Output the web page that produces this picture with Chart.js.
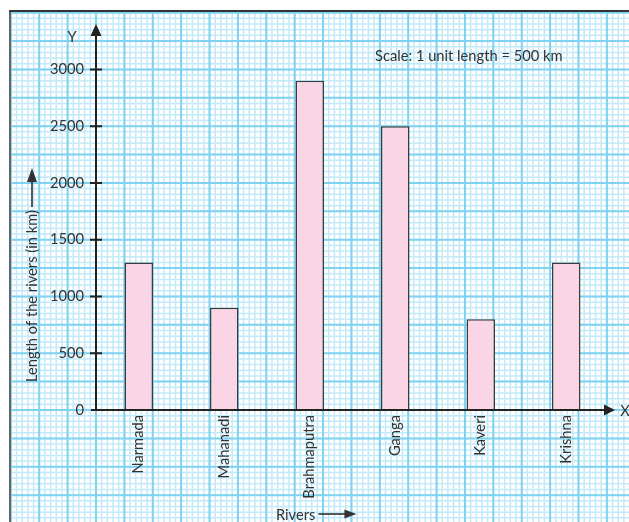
<!DOCTYPE html>
<html>
<head>
<meta charset="utf-8">
<script src="https://cdn.jsdelivr.net/npm/chart.js@4"></script>
<style>
  html, body { margin: 0; padding: 0; background: #fff; }
  #wrap { width: 629px; height: 522px; }
</style>
</head>
<body>
<div id="wrap"><canvas id="chart"></canvas></div>
<script>
const rivers = ['Narmada', 'Mahanadi', 'Brahmaputra', 'Ganga', 'Kaveri', 'Krishna'];
const lengths = [1300, 900, 2900, 2500, 800, 1300];
const yTicks = [0, 500, 1000, 1500, 2000, 2500, 3000];

const FONT = 'Lato';
const SIZE = 14.7;
const TEXT = '#333';

// graph paper behind everything
const paper = {
  id: 'paper',
  beforeDraw(chart) {
    const { ctx, width, height, chartArea, scales: { y } } = chart;
    const step = y.getPixelForValue(0) - y.getPixelForValue(50);
    const ox = chartArea.left, oy = y.getPixelForValue(0);
    const left = 10, top = 11;
    ctx.save();
    ctx.fillStyle = '#fff';
    ctx.fillRect(0, 0, width, height);

    const lines = (color, lw, every) => {
      ctx.strokeStyle = color;
      ctx.lineWidth = lw;
      ctx.beginPath();
      for (let k = Math.ceil((left - ox) / step); ox + k * step <= width; k++) {
        if (every && k % every !== 0) continue;
        const x = ox + k * step;
        ctx.moveTo(x, top); ctx.lineTo(x, height);
      }
      for (let k = Math.ceil((oy - height) / step); oy - k * step >= top; k++) {
        if (every && k % every !== 0) continue;
        const yy = oy - k * step;
        ctx.moveTo(left, yy); ctx.lineTo(width, yy);
      }
      ctx.stroke();
    };
    lines('#c4e9f8', 1.5, 0);
    lines('#7fd2f1', 2, 5);

    ctx.strokeStyle = '#666';
    ctx.lineWidth = 2;
    ctx.beginPath();
    ctx.moveTo(10, 10); ctx.lineTo(10, height);
    ctx.stroke();
    ctx.strokeStyle = '#333';
    ctx.beginPath();
    ctx.moveTo(9, 11); ctx.lineTo(width, 11);
    ctx.stroke();
    ctx.restore();
  }
};

// axes with arrows and the loose labels
const axes = {
  id: 'axes',
  afterDatasetsDraw(chart) {
    const { ctx, chartArea, scales: { y } } = chart;
    const ax = chartArea.left, ay = y.getPixelForValue(0);
    ctx.save();
    ctx.strokeStyle = '#222';
    ctx.fillStyle = '#222';
    ctx.lineWidth = 2;
    ctx.beginPath();
    ctx.moveTo(ax, ay + 1); ctx.lineTo(ax, 34);
    ctx.moveTo(91, ay); ctx.lineTo(607, ay);
    yTicks.forEach(v => {
      if (v === 0) return;
      const p = y.getPixelForValue(v);
      ctx.moveTo(90, p); ctx.lineTo(102, p);
    });
    ctx.stroke();
    ctx.beginPath();
    ctx.moveTo(ax, 24); ctx.lineTo(ax - 5.5, 36); ctx.lineTo(ax + 5.5, 36); ctx.closePath();
    ctx.moveTo(615, ay); ctx.lineTo(604, ay - 5.5); ctx.lineTo(604, ay + 5.5); ctx.closePath();
    ctx.fill();

    ctx.fillStyle = TEXT;
    ctx.font = SIZE + 'px ' + FONT;
    ctx.textBaseline = 'middle';
    ctx.textAlign = 'center';
    ctx.fillText('Y', 72, 37);
    ctx.fillText('X', 625, ay + 1);
    ctx.textAlign = 'left';
    ctx.fillText('Scale: 1 unit length = 500 km', 375, 56);

    // x title
    const rw = ctx.measureText('Rivers').width;
    ctx.fillText('Rivers', 276, 515);
    ctx.lineWidth = 1.5;
    ctx.beginPath();
    ctx.moveTo(276 + rw + 3, 514); ctx.lineTo(276 + rw + 32, 514);
    ctx.stroke();
    ctx.beginPath();
    ctx.moveTo(276 + rw + 41, 514); ctx.lineTo(276 + rw + 29, 509.5); ctx.lineTo(276 + rw + 29, 518.5); ctx.closePath();
    ctx.fill();

    // y title
    ctx.translate(32, 382);
    ctx.rotate(-Math.PI / 2);
    const tw = ctx.measureText('Length of the rivers (in km)').width;
    ctx.fillText('Length of the rivers (in km)', 0, 0);
    ctx.beginPath();
    ctx.moveTo(tw + 3, 0); ctx.lineTo(tw + 30, 0);
    ctx.stroke();
    ctx.beginPath();
    ctx.moveTo(tw + 42, 0); ctx.lineTo(tw + 28, -5); ctx.lineTo(tw + 28, 5); ctx.closePath();
    ctx.fill();
    ctx.restore();
  }
};

new Chart(document.getElementById('chart'), {
  type: 'bar',
  data: {
    labels: rivers,
    datasets: [{
      label: 'Length of the rivers (in km)',
      data: lengths,
      backgroundColor: '#f9d5e5',
      borderColor: '#3a3a3a',
      borderWidth: 1.5,
      borderSkipped: 'bottom',
      barPercentage: 1 / 3,
      categoryPercentage: 1
    }]
  },
  options: {
    responsive: true,
    maintainAspectRatio: false,
    animation: false,
    layout: { padding: { top: 24, right: 20, left: 0, bottom: 0 } },
    plugins: {
      legend: { display: false },
      tooltip: { enabled: false }
    },
    scales: {
      x: {
        offset: true,
        grid: { display: false, drawTicks: false },
        border: { display: false },
        ticks: {
          autoSkip: false,
          maxRotation: 90,
          minRotation: 90,
          padding: 5,
          color: TEXT,
          font: { family: FONT, size: SIZE }
        },
        afterFit(scale) { scale.height = 112; }
      },
      y: {
        min: 0,
        max: 3400,
        grid: { display: false, drawTicks: false },
        border: { display: false },
        ticks: {
          padding: 12,
          color: TEXT,
          font: { family: FONT, size: SIZE },
          callback: v => String(v)
        },
        afterBuildTicks(scale) { scale.ticks = yTicks.map(v => ({ value: v })); },
        afterFit(scale) { scale.width = 96; }
      }
    }
  },
  plugins: [paper, axes]
});
</script>
</body>
</html>
